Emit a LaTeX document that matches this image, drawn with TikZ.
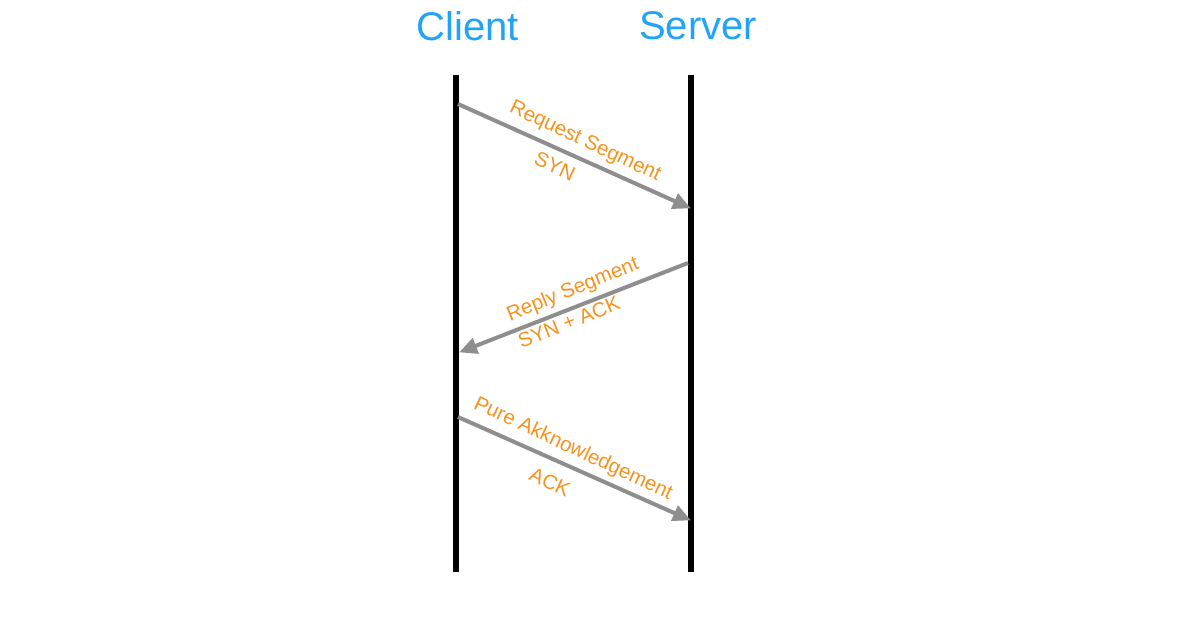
\documentclass[tikz,border=0pt]{standalone}
\usepackage{fontspec}
\setmainfont{Liberation Sans}
\usetikzlibrary{arrows.meta}
\definecolor{hdblue}{RGB}{33,163,247}
\definecolor{lblorange}{RGB}{247,146,30}
\definecolor{msggray}{RGB}{142,142,142}
\begin{document}
\begin{tikzpicture}[x=1pt,y=-1pt,
  header/.style={text=hdblue,font=\fontsize{40}{44}\selectfont,inner sep=0pt},
  lifeline/.style={line width=6pt,black},
  msg/.style={line width=4pt,msggray,-{Triangle[length=18pt,width=16pt]},shorten >=-1pt},
  lbl/.style={text=lblorange,font=\fontsize{20.5}{23}\selectfont,inner sep=0pt}]
\useasboundingbox (0,0) rectangle (1196,620);
\node[header] (client) at (468,26) {Client};
\node[header] (server) at (698,26) {Server};
\coordinate (ctop) at (456,75);
\coordinate (cbot) at (456,572);
\coordinate (stop) at (691,75);
\coordinate (sbot) at (691,572);
\draw[lifeline] (ctop) -- (cbot);
\draw[lifeline] (stop) -- (sbot);
\coordinate (c1) at (458,104);
\coordinate (s1) at (690,208);
\coordinate (s2) at (688,263);
\coordinate (c2) at (460,352);
\coordinate (c3) at (458,417);
\coordinate (s3) at (690,520);
\draw[msg] (c1) -- (s1);
\draw[msg] (s2) -- (c2);
\draw[msg] (c3) -- (s3);
\node[lbl,rotate=-25] (l1a) at (585,142) {Request Segment};
\node[lbl,rotate=-25] (l1b) at (555,166) {SYN};
\node[lbl,rotate=22] (l2a) at (573,290) {Reply Segment};
\node[lbl,rotate=22] (l2b) at (569,322) {SYN + ACK};
\node[lbl,rotate=-25] (l3a) at (573,449) {Pure Akknowledgement};
\node[lbl,rotate=-25] (l3b) at (550,482) {ACK};
\end{tikzpicture}
\end{document}
